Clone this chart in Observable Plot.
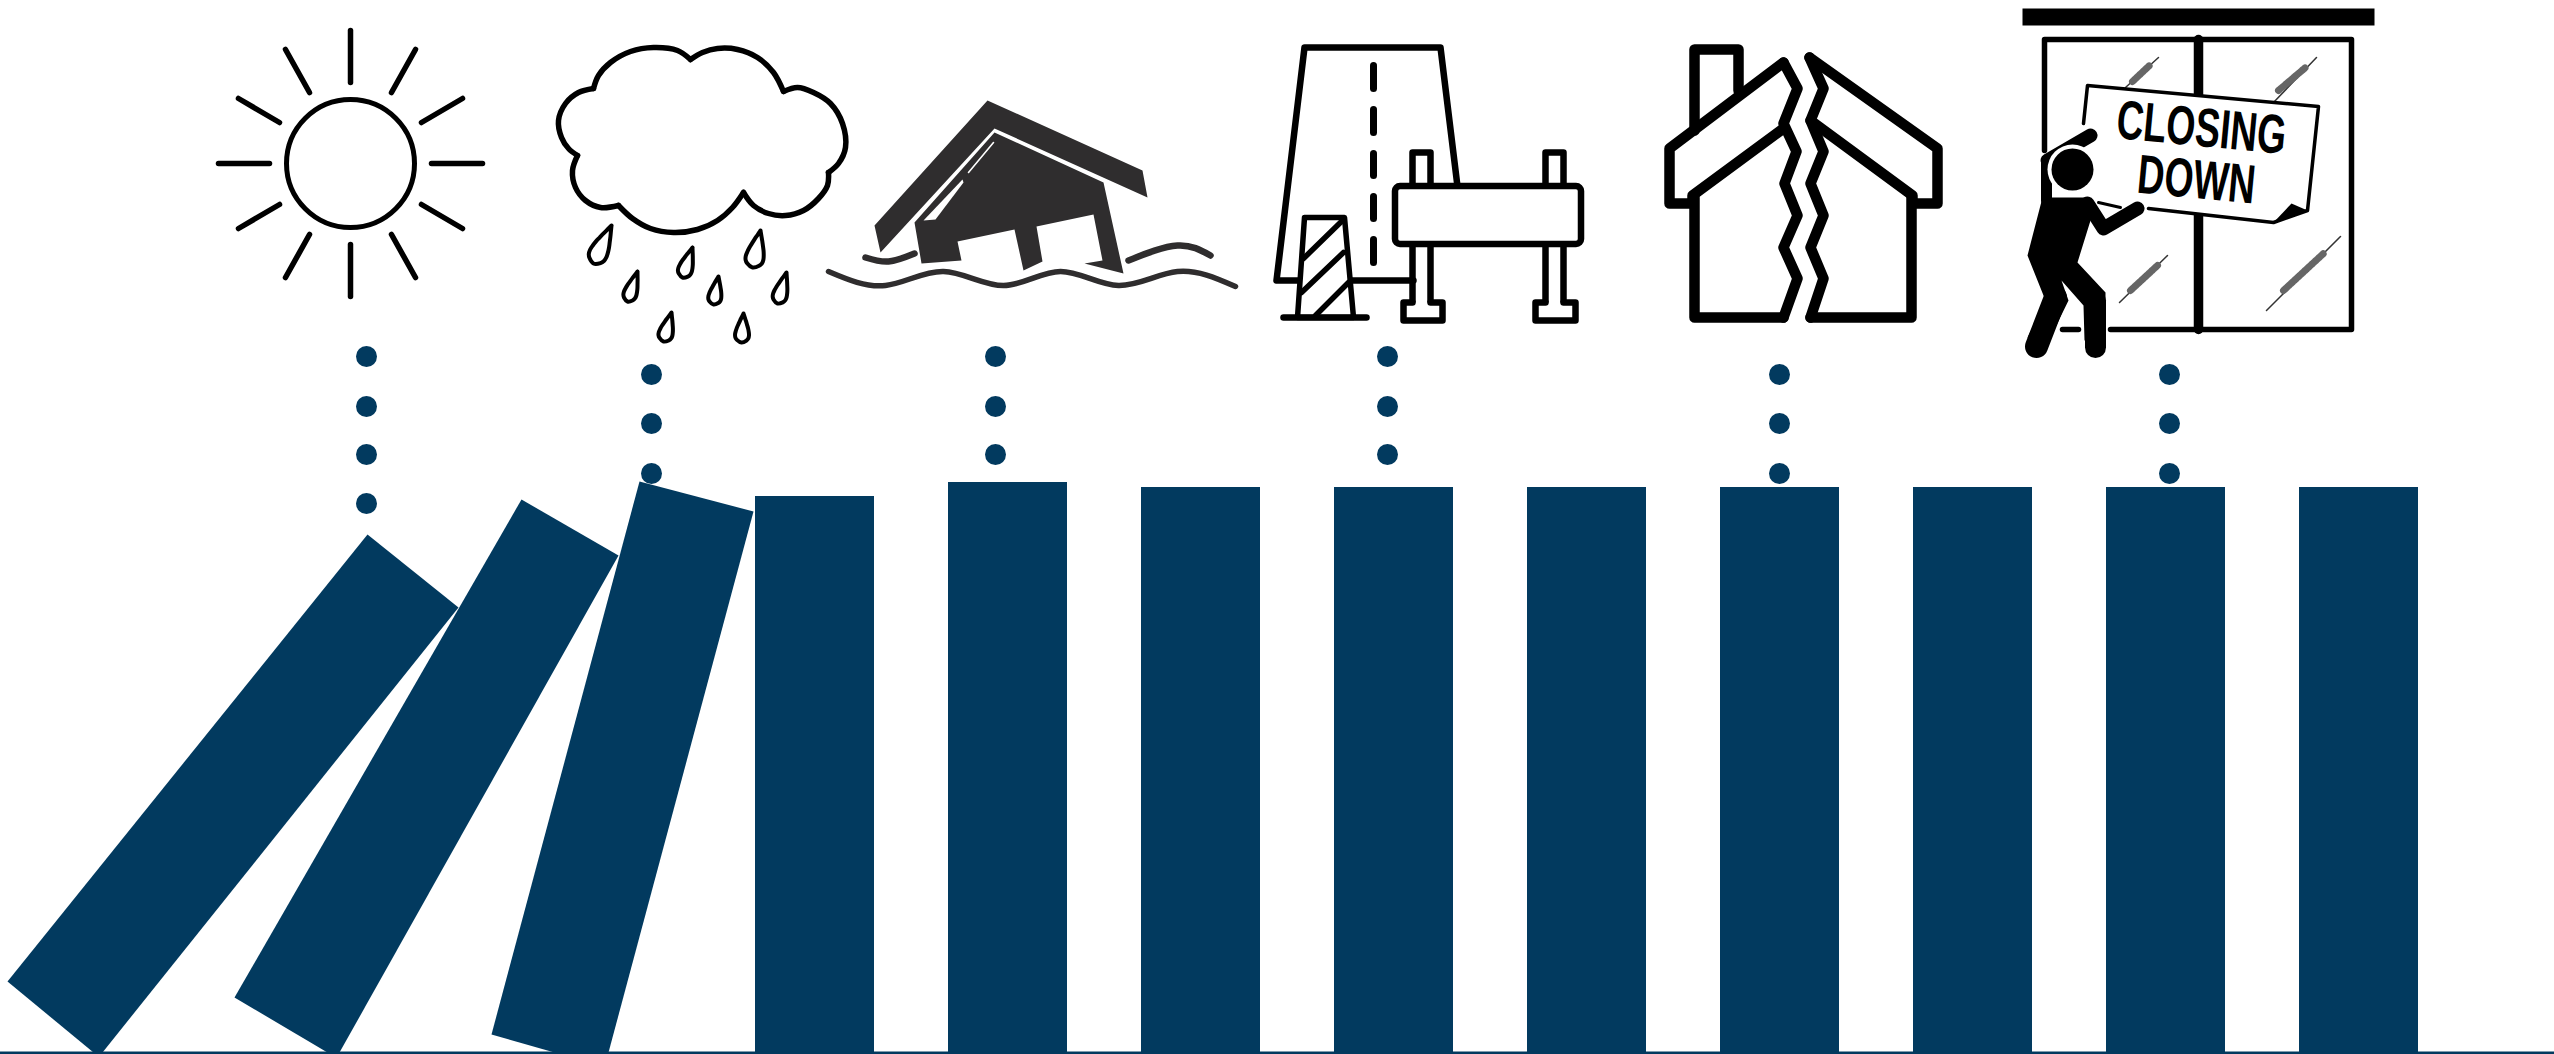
<!DOCTYPE html>
<html>
<head>
<meta charset="utf-8">
<script src="https://cdn.jsdelivr.net/npm/d3@7"></script>
<script src="https://cdn.jsdelivr.net/npm/@observablehq/plot@0.6"></script>
<style>html,body{margin:0;padding:0;background:#fff;overflow:hidden}svg{display:block}</style>
</head>
<body>
<div id="chart"></div>
<script>
const navy = "#023a5f", ink = "#000000", houseInk = "#2f2d2e";

// dominoes
const baseline = 1052.5;
const barLeft = [755, 948, 1141, 1334, 1527, 1720, 1913, 2106, 2299];
const barTop = [496, 482, 487, 487, 487, 487, 487, 487, 487];
const barWide = 119;
const fallen1 = [[367,534],[458,607],[102,1052],[93,1052],[7,981]];
const fallen2 = [[521,499],[618,555],[339,1052],[327,1052],[234,997]];
const fallen3 = [[639,481],[753,511],[608,1052],[554,1052],[491,1034]];

// dotted connectors
const dotX = [366, 651, 995, 1387, 1779, 2169];
const dotRows = [[356,406,454,503],[374,423,473],[356,406,454],[356,406,454],[374,423,473],[374,423,473]];

// sun
const sunCentre = [350, 163];
const sunRays = [[350,30,350,82],[285,49,309,92],[238,98,279,122],[218,163,269,163],[238,228,279,204],[285,277,309,234],
                 [350,296,350,244],[415,277,391,234],[462,228,421,204],[482,163,431,163],[462,98,421,122],[415,49,391,92]];

// cloud lobes
const cloudLobes = [
  [[690,59],[677,50],[653,47],[630,51],[610,62],[598,75],[593,88]],
  [[593,88],[578,92],[565,103],[558,120],[561,137],[568,148],[577,155]],
  [[577,155],[572,170],[575,187],[585,200],[600,207],[618,205]],
  [[618,205],[632,218],[650,228],[673,232],[697,229],[717,220],[732,207],[743,192]],
  [[743,192],[753,205],[768,213],[785,215],[803,210],[818,198],[827,185],[828,172]],
  [[828,172],[838,163],[845,147],[842,123],[830,103],[813,92],[797,87],[783,91]],
  [[783,91],[773,72],[757,57],[737,49],[717,48],[702,52],[690,59]]
];
const dropTips = [[611,225],[692,247],[760,230],[637,271],[718,276],[786,272],[671,312],[743,313]];
const dropEnds = [[593,263],[682,277],[752,267],[627,301],[713,304],[777,303],[663,341],[741,342]];
const dropHalf = [9, 7, 9, 6.5, 6.5, 7, 7, 7];

// flooded house
const floodRoof = [[987,100],[1142,170],[1147,197],[994,128],[880,252],[874,225]];
const floodBody = [[994,132],[1103,182],[1123,273],[1084,263],[1102,260],[1093,214],[1036,226],[1042,261],[1023,270],[1014,229],[957,241],[961,260],[921,263],[914,222]];
const floodWindow = [[923,220],[962,179],[963,182],[935,219]];
const floodSlit = [[968,172],[993,142]];
const waveMain = [[828,271],[885,285],[943,271],[1003,285],[1060,271],[1118,285],[1177,271],[1235,286]];
const waveRight = [[1128,260],[1177,245],[1210,255]];
const waveLeft = [[865,257],[888,261],[914,253]];

// road works
const roadEdge = [[1457,186],[1440,47],[1304,47],[1276,280],[1413,280]];
const roadDashes = [[65,88],[109,132],[153,175],[196,218],[239,262]];
const roadDashX = 1373;
const cone = [[1304,217],[1344,217],[1353,317],[1297,317]];
const coneBase = [[1283,317],[1366,317]];
const coneStripes = [[[1342,220],[1303,258]],[[1343,252],[1301,292]],[[1348,282],[1315,315]]];
const boardX = [1395, 1581], boardY = [186, 244];
const postTopsPaths = [[[1412,186],[1412,152],[1430,152],[1430,186]],[[1545,186],[1545,152],[1563,152],[1563,186]]];
const postLegs = [[[1412,244],[1412,302]],[[1430,244],[1430,302]],[[1545,244],[1545,302]],[[1563,244],[1563,302]]];
const feet = [[[1412,302],[1403,302],[1403,320],[1442,320],[1442,302],[1430,302]],[[1545,302],[1535,302],[1535,320],[1575,320],[1575,302],[1563,302]]];

// cracked house
const roofLeft = [[1783,128],[1692,195],[1692,203],[1669,203],[1669,148],[1783,62]];
const crackLeft = [[1783,62],[1797,88],[1783,123],[1796,151],[1784,183],[1797,215],[1783,247],[1797,278],[1783,317]];
const wallLeft = [[1694,197],[1694,317],[1783,317]];
const roofRight = [[1810,120],[1912,195],[1912,203],[1937,203],[1937,148],[1809,57]];
const crackRight = [[1809,57],[1823,88],[1810,120],[1823,151],[1810,183],[1823,215],[1810,247],[1823,278],[1810,317]];
const wallRight = [[1911,197],[1911,317],[1810,317]];
const chimney = [[1694,130],[1694,49],[1738,49],[1738,90]];

// closing-down shop
const shopBar = [[2022,8],[2374,8],[2374,25],[2022,25]];
const frameTop = [[2044,150],[2044,39],[2351,39],[2351,329],[2110,329]];
const frameFoot = [[2062,329],[2078,329]];
const mullion = [[2198,39],[2198,329]];
const signFill = [[2087,85],[2318,106],[2307,210],[2273,222],[2148,208],[2083,200]];
const signEdge = [[2083,123],[2087,85],[2318,106],[2307,210],[2273,222],[2148,208]];
const signEdgeLow = [[2098,202],[2120,207]];
const signCurl = [[2273,222],[2291,203],[2307,210]];
const scratchLines = [[[2125,87],[2158,57]],[[2273,102],[2316,57]],[[2119,302],[2167,255]],[[2266,310],[2340,236]]];
const scratchCores = [[[2132,81],[2149,65]],[[2278,90],[2305,67]],[[2130,290],[2157,265]],[[2283,290],[2323,253]]];
const person = [[2042,197],[2085,197],[2090,220],[2077,262],[2105,292],[2105,340],[2084,340],[2083,305],[2061,280],[2068,300],[2046,345],[2027,337],[2045,300],[2027,255]];
const armUp = [[2047,160],[2090,135]];
const shoulder = [[2046,160],[2046,200]];
const armDown = [[2087,203],[2103,228],[2137,208]];
const footBack = [[2055,297],[2036,346]];
const footFront = [[2095,300],[2095,347]];
const headCentre = [2072, 169];
const signLines = ["CLOSING", "DOWN"];
const signLineX = [2201, 2196], signLineY = [128, 180], signLineLen = [170, 118];

const px = d => d[0], py = d => d[1];
const pathOf = (pts, o = {}) => Plot.line(pts, {x: px, y: py, ...o});
const outline = (pts, o = {}) => pathOf([...pts, pts[0]], {strokeLinejoin: "miter", ...o});
const smooth = (pts, w, c = ink, curve = "catmull-rom") => pathOf(pts, {stroke: c, strokeWidth: w, curve, strokeLinecap: "round"});
const poly = (pts, c, o = {}) => Plot.line(pts, {x: px, y: py, fill: c, stroke: "none", ...o});
const roundPath = (pts, w, o = {}) => pathOf(pts, {stroke: ink, strokeWidth: w, strokeLinecap: "round", strokeLinejoin: "round", ...o});

const dropProfile = [[0,0],[.12,.2],[.25,.42],[.38,.62],[.5,.8],[.62,.93],[.74,1],[.84,.93],[.92,.68],[1,0]];
function dropPath(tip, end, half) {
  const dx = end[0] - tip[0], dy = end[1] - tip[1], l = Math.hypot(dx, dy), nx = -dy / l, ny = dx / l;
  const at = (t, s) => [tip[0] + dx * t + nx * s * half, tip[1] + dy * t + ny * s * half];
  return [...dropProfile.map(([t, s]) => at(t, s)), ...dropProfile.slice(0, -1).reverse().map(([t, s]) => at(t, -s))];
}

const marks = [
  // dominoes
  Plot.rect(barLeft.map((x, i) => ({x1: x, x2: x + barWide, y1: baseline + 2, y2: barTop[i]})), {x1: "x1", x2: "x2", y1: "y1", y2: "y2", fill: navy}),
  poly(fallen1, navy), poly(fallen2, navy), poly(fallen3, navy),
  Plot.ruleY([baseline], {x1: 0, x2: 2554, stroke: navy, strokeWidth: 3}),
  Plot.dot(dotX.flatMap((x, i) => dotRows[i].map(y => ({x, y}))), {x: "x", y: "y", r: 10.5, fill: navy}),

  // sun
  Plot.dot([sunCentre], {x: px, y: py, r: 64, stroke: ink, strokeWidth: 5, fill: "none"}),
  Plot.link(sunRays, {x1: d => d[0], y1: d => d[1], x2: d => d[2], y2: d => d[3], stroke: ink, strokeWidth: 5.5, strokeLinecap: "round"}),

  // cloud
  ...cloudLobes.map(l => smooth(l, 5.5)),
  ...dropTips.map((t, i) => smooth(dropPath(t, dropEnds[i], dropHalf[i]), 4)),

  // flood
  poly(floodRoof, houseInk), poly(floodBody, houseInk), poly(floodWindow, "#fff"),
  pathOf(floodSlit, {stroke: "#fff", strokeWidth: 1.6}),
  smooth(waveMain, 5.5, houseInk, "natural"), smooth(waveRight, 6.5, houseInk, "natural"), smooth(waveLeft, 6.5, houseInk, "natural"),

  // road works
  roundPath(roadEdge, 6.5),
  Plot.link(roadDashes, {x1: () => roadDashX, x2: () => roadDashX, y1: d => d[0], y2: d => d[1], stroke: ink, strokeWidth: 7, strokeLinecap: "round"}),
  outline(cone, {stroke: ink, strokeWidth: 5.5, fill: "#fff", strokeLinejoin: "round"}),
  ...coneStripes.map(s => pathOf(s, {stroke: ink, strokeWidth: 5.5})),
  roundPath(coneBase, 6.5),
  ...postLegs.map(s => roundPath(s, 6.5)),
  ...feet.map(f => roundPath(f, 6.5, {fill: "#fff"})),
  ...postTopsPaths.map(p => roundPath(p, 6.5, {fill: "#fff"})),
  Plot.rect([0], {x1: () => boardX[0], x2: () => boardX[1], y1: () => boardY[0], y2: () => boardY[1], fill: "#fff", stroke: ink, strokeWidth: 6.5, rx: 5}),

  // cracked house
  roundPath(roofLeft, 10.5), roundPath(roofRight, 10.5),
  roundPath(crackLeft, 10.5), roundPath(crackRight, 10.5),
  roundPath(wallLeft, 10.5), roundPath(wallRight, 10.5), roundPath(chimney, 10.5),

  // closing-down shop
  poly(shopBar, ink),
  pathOf(frameTop, {stroke: ink, strokeWidth: 5.5}),
  pathOf(frameFoot, {stroke: ink, strokeWidth: 5.5}),
  pathOf(mullion, {stroke: ink, strokeWidth: 9.5}),
  ...scratchLines.map(s => pathOf(s, {stroke: "#333", strokeWidth: 1.5})),
  ...scratchCores.map(s => pathOf(s, {stroke: "#666", strokeWidth: 7, strokeDasharray: "1.2,1.2"})),
  poly(signFill, "#fff"),
  pathOf(signEdge, {stroke: ink, strokeWidth: 3.5}),
  pathOf(signEdgeLow, {stroke: ink, strokeWidth: 3}),
  poly(signCurl, ink),
  Plot.text(signLines, {x: (d, i) => signLineX[i], y: (d, i) => signLineY[i], text: d => d, fontFamily: "Liberation Sans, Arial, sans-serif", fontWeight: 700, fontSize: 55, rotate: 5.4, fill: ink}),
  pathOf(armUp, {stroke: ink, strokeWidth: 14, strokeLinecap: "round"}),
  pathOf(shoulder, {stroke: ink, strokeWidth: 11}),
  Plot.dot([headCentre], {x: px, y: py, r: 25, fill: "#fff"}),
  Plot.dot([headCentre], {x: px, y: py, r: 21, fill: ink}),
  poly(person, ink),
  roundPath(armDown, 14),
  roundPath(footBack, 23), roundPath(footFront, 21)
];

const svg = Plot.plot({
  width: 2554, height: 1054,
  margin: 0,
  x: {domain: [0, 2554], range: [0, 2554], axis: null},
  y: {domain: [0, 1054], range: [0, 1054], axis: null},
  marks
});
svg.querySelectorAll("text").forEach(t => {
  const i = signLines.indexOf(t.textContent);
  if (i >= 0) { t.setAttribute("textLength", signLineLen[i]); t.setAttribute("lengthAdjust", "spacingAndGlyphs"); }
});
document.getElementById("chart").append(svg);
</script>
</body>
</html>
